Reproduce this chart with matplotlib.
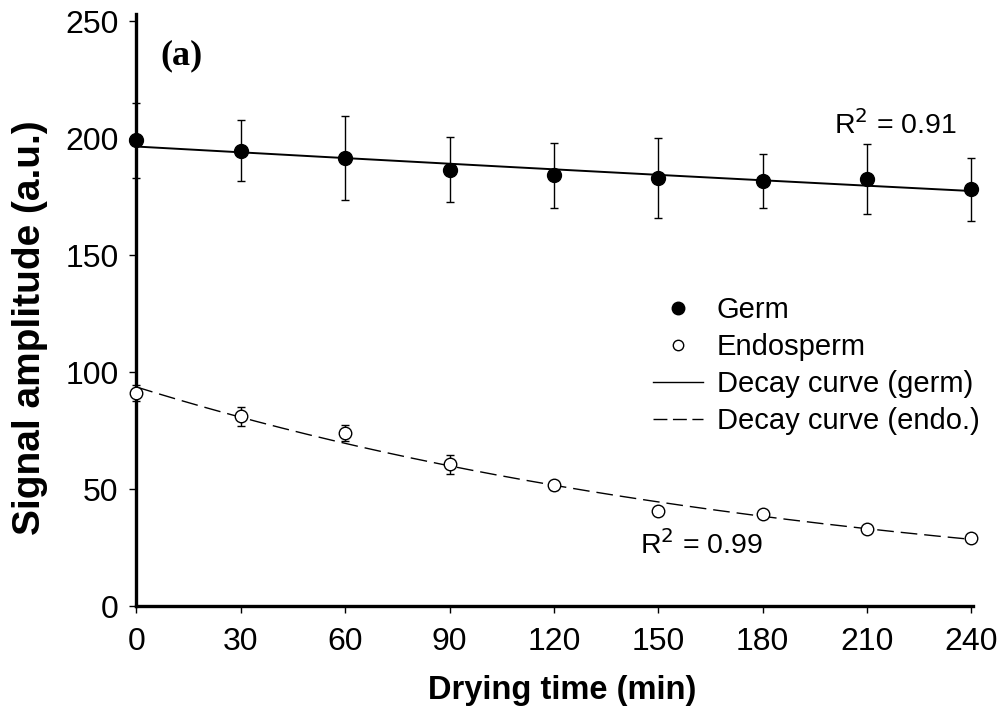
import numpy as np
import matplotlib
matplotlib.use("Agg")
import matplotlib.pyplot as plt
from matplotlib.lines import Line2D

plt.rcParams['font.family'] = ['Liberation Sans', 'DejaVu Sans']

# Data
time_min = [0, 30, 60, 90, 120, 150, 180, 210, 240]
germ = [199, 194.5, 191.5, 186.5, 184, 183, 181.5, 182.5, 178]
germ_err = [16, 13, 18, 14, 14, 17, 11.5, 15, 13.5]
endo = [91, 81, 74, 60.5, 51.5, 40.5, 39.5, 33, 29]
endo_err = [3.6, 4, 3.4, 4, 2, 0, 0, 0, 0]
xticks = [0, 30, 60, 90, 120, 150, 180, 210, 240]
yticks = [0, 50, 100, 150, 200, 250]
r2_germ = "0.91"
r2_endo = "0.99"

t = np.array(time_min, dtype=float)

def exp_fit(x, y):
    b, a = np.polyfit(x, np.log(np.array(y, dtype=float)), 1)
    return lambda xx: np.exp(a) * np.exp(b * xx)

fg = exp_fit(t, germ)
fe = exp_fit(t, endo)
tt = np.linspace(0, 240, 300)

fig = plt.figure(figsize=(10.04, 7.14), dpi=100)
ax = fig.add_axes([136.5 / 1004, 1 - 606 / 714, (973 - 136.5) / 1004, (606 - 14) / 714])

ax.plot(tt, fg(tt), color='black', lw=1.4, zorder=2)
ax.plot(tt, fe(tt), color='black', lw=1.0, dashes=(12, 5), zorder=2)

ax.errorbar(t, germ, yerr=germ_err, fmt='o', color='black', ms=10,
            ecolor='black', elinewidth=1.0, capsize=3.2, capthick=1.0, zorder=4,
            clip_on=False)
ax.errorbar(t, endo, yerr=endo_err, fmt='o', mfc='white', mec='black', mew=1.0,
            ms=9, ecolor='black', elinewidth=1.0, capsize=3.2, capthick=1.0, zorder=4,
            clip_on=False)

ax.set_xlim(0, 240.5)
ax.set_ylim(0, 253)
ax.set_xticks(xticks)
ax.set_yticks(yticks)
ax.spines['top'].set_visible(False)
ax.spines['right'].set_visible(False)
ax.spines['left'].set_linewidth(2.4)
ax.spines['bottom'].set_linewidth(2.4)
ax.tick_params(axis='both', direction='out', length=5, width=1.0, labelsize=23)
ax.tick_params(axis='x', pad=10)
ax.tick_params(axis='y', pad=8)

ax.set_xlabel('Drying time (min)', fontsize=23.5, fontweight='bold', va='center')
ax.xaxis.set_label_coords(0.509, -0.142)
ax.set_ylabel('Signal amplitude (a.u.)', fontsize=28, fontweight='bold', va='center')
ax.yaxis.set_label_coords(-0.127, 0.47)

ax.text(0.028, 0.93, '(a)', transform=ax.transAxes, fontsize=26, fontweight='bold',
        family=['Liberation Serif', 'DejaVu Serif'], va='center', ha='left')
ax.text(0.907, 0.8125, r'R$^2$ = ' + r2_germ, transform=ax.transAxes, fontsize=20.5,
        ha='center', va='center')
ax.text(0.676, 0.103, r'R$^2$ = ' + r2_endo, transform=ax.transAxes, fontsize=20.5,
        ha='center', va='center')

handles = [
    Line2D([], [], ls='none', marker='o', color='black', ms=9),
    Line2D([], [], ls='none', marker='o', mfc='white', mec='black', ms=7.5, mew=1.0),
    Line2D([], [], color='black', lw=1.0),
    Line2D([], [], color='black', lw=1.0, dashes=(10, 4)),
]
labels = ['Germ', 'Endosperm', 'Decay curve (germ)', 'Decay curve (endo.)']
fig.legend(handles, labels, loc='upper left', bbox_to_anchor=(653 / 1004, 1 - 296 / 714),
           frameon=False, fontsize=21, handlelength=1.71, handletextpad=0.48,
           labelspacing=0.31, borderaxespad=0, borderpad=0)

fig.savefig('out.png', dpi=100)
